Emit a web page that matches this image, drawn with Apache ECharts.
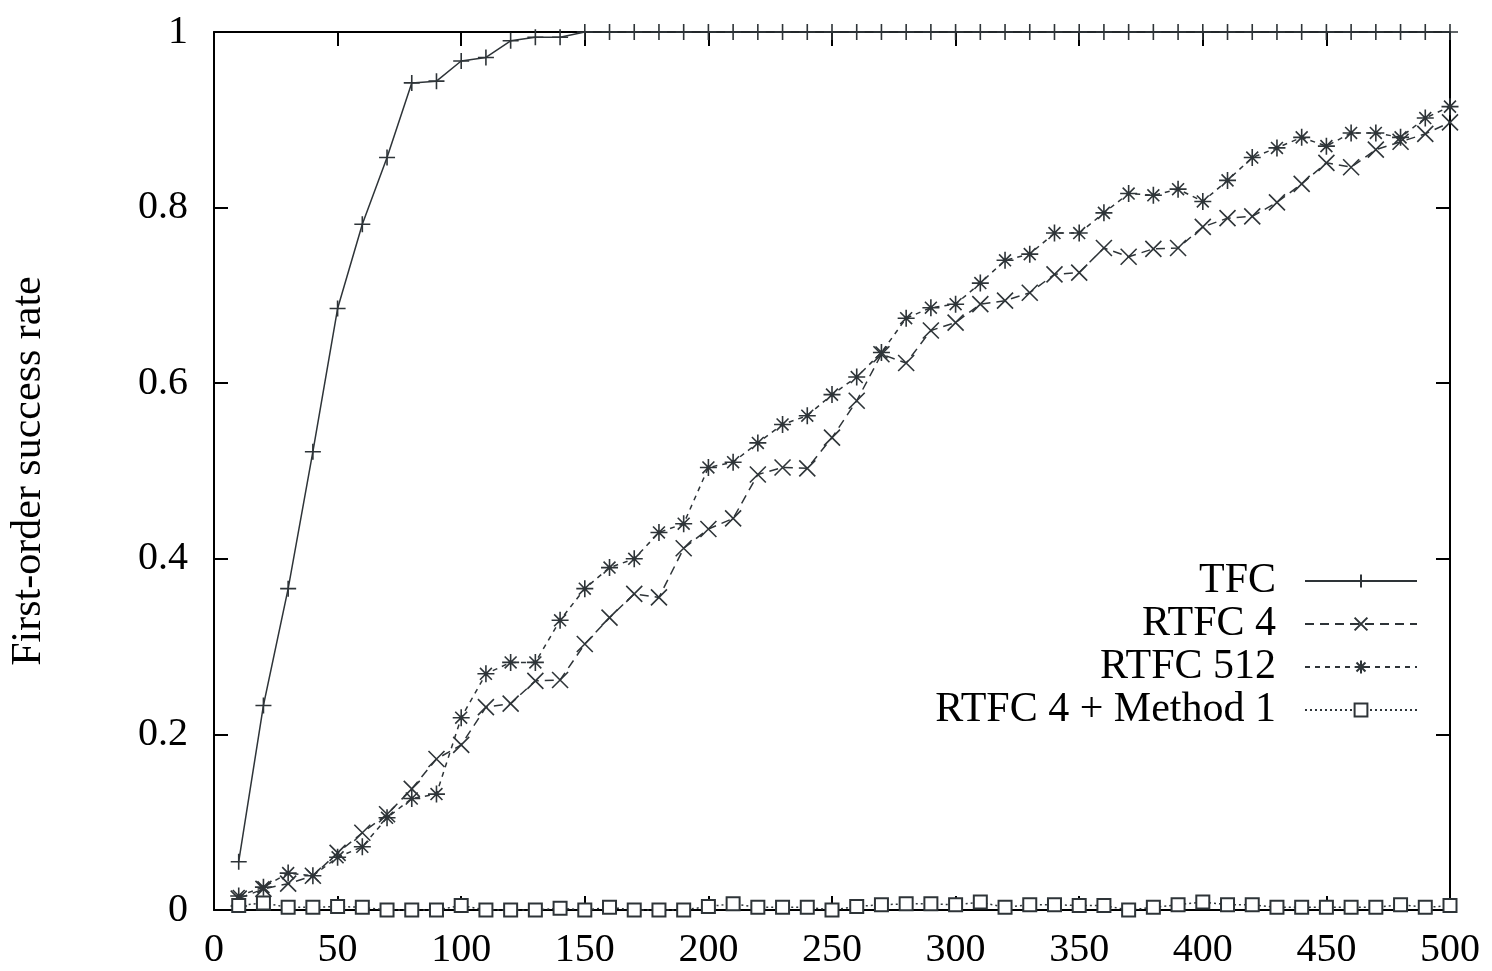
<!DOCTYPE html>
<html>
<head>
<meta charset="utf-8">
<script src="https://cdn.jsdelivr.net/npm/echarts@6/dist/echarts.min.js"></script>
<style>
  html, body { margin: 0; padding: 0; background: #fff; }
  #chart { width: 1492px; height: 971px; }
</style>
</head>
<body>
<div id="chart"></div>
<script>
// x positions
const xs = [10, 20, 30, 40, 50, 60, 70, 80, 90, 100,
  110, 120, 130, 140, 150, 160, 170, 180, 190, 200,
  210, 220, 230, 240, 250, 260, 270, 280, 290, 300,
  310, 320, 330, 340, 350, 360, 370, 380, 390, 400,
  410, 420, 430, 440, 450, 460, 470, 480, 490, 500]

const tfc = [0.055, 0.233, 0.366, 0.522, 0.685, 0.781, 0.857, 0.942, 0.944, 0.967,
  0.971, 0.990, 0.994, 0.994, 1, 1, 1, 1, 1, 1,
  1, 1, 1, 1, 1, 1, 1, 1, 1, 1,
  1, 1, 1, 1, 1, 1, 1, 1, 1, 1,
  1, 1, 1, 1, 1, 1, 1, 1, 1, 1]

const rtfc4 = [0.013, 0.024, 0.030, 0.039, 0.065, 0.088, 0.109, 0.138, 0.172, 0.188,
  0.231, 0.235, 0.261, 0.262, 0.303, 0.333, 0.360, 0.356, 0.412, 0.434,
  0.446, 0.496, 0.504, 0.503, 0.538, 0.580, 0.633, 0.623, 0.660, 0.669,
  0.690, 0.694, 0.703, 0.724, 0.726, 0.754, 0.744, 0.753, 0.754, 0.778,
  0.788, 0.790, 0.806, 0.827, 0.851, 0.846, 0.866, 0.875, 0.884, 0.897]

const rtfc512 = [0.016, 0.026, 0.042, 0.039, 0.060, 0.072, 0.105, 0.127, 0.132, 0.219,
  0.269, 0.282, 0.282, 0.330, 0.366, 0.390, 0.400, 0.430, 0.440, 0.504,
  0.510, 0.532, 0.553, 0.563, 0.587, 0.607, 0.635, 0.674, 0.686, 0.690,
  0.714, 0.740, 0.747, 0.771, 0.771, 0.794, 0.816, 0.814, 0.821, 0.807,
  0.831, 0.857, 0.868, 0.880, 0.870, 0.885, 0.885, 0.880, 0.902, 0.915]

const method1 = [0.005, 0.008, 0.003, 0.003, 0.004, 0.003, 0, 0, 0, 0.005,
  0, 0, 0, 0.002, 0, 0.003, 0, 0, 0, 0.004,
  0.007, 0.003, 0.003, 0.003, 0, 0.004, 0.006, 0.007, 0.007, 0.006,
  0.009, 0.003, 0.006, 0.006, 0.005, 0.005, 0, 0.003, 0.006, 0.009,
  0.006, 0.006, 0.003, 0.003, 0.003, 0.003, 0.003, 0.006, 0.003, 0.005]

const seriesNames = ['TFC', 'RTFC 4', 'RTFC 512', 'RTFC 4 + Method 1']

const font = '"Liberation Serif", "DejaVu Serif", serif'
const ink = '#2e3438'

// gnuplot-like point types drawn as stroked paths
const plusSym = 'path://M0,5 L10,5 M5,0 L5,10'
const crossSym = 'path://M0,0 L10,10 M10,0 L0,10'
const starSym = 'path://M0,5 L10,5 M5,0 L5,10 M1.5,1.5 L8.5,8.5 M8.5,1.5 L1.5,8.5'

const pairs = (ys) => xs.map((x, i) => [x, ys[i]])

function makeSeries (name, ys, symbol, size, dash) {
    return {
        name,
        type: 'line',
        data: pairs(ys),
        symbol,
        symbolSize: size,
        clip: false,
        showAllSymbol: true,
        lineStyle: { color: ink, width: 1.5, type: dash },
        itemStyle: { color: symbol === 'emptyRect' ? ink : 'transparent', borderColor: ink, borderWidth: 1.6 },
        emphasis: { disabled: true },
        animation: false
    }
}

const axisCommon = {
    type: 'value',
    axisLine: { show: true, onZero: false, lineStyle: { color: '#000', width: 2 } },
    axisTick: { show: true, inside: true, length: 14, lineStyle: { color: '#000', width: 2 } },
    splitLine: { show: false }
}

const option = {
    backgroundColor: '#fff',
    grid: { left: 211, right: 42, top: 32, bottom: 61 },
    legend: {
        orient: 'vertical',
        right: 69,
        top: 555,
        align: 'right',
        itemWidth: 112,
        itemHeight: 16,
        itemGap: 1,
        data: seriesNames,
        textStyle: {
            fontFamily: font,
            fontSize: 42,
            color: '#000',
            width: 380,
            align: 'right',
            lineHeight: 42,
            padding: [0, 24, 0, 0]
        }
    },
    xAxis: [
        {
            ...axisCommon,
            min: 0,
            max: 500,
            interval: 50,
            position: 'bottom',
            axisLabel: { fontFamily: font, fontSize: 40, color: '#000', margin: 20 }
        },
        {
            ...axisCommon,
            min: 0,
            max: 500,
            interval: 50,
            position: 'top',
            axisLabel: { show: false }
        }
    ],
    yAxis: [
        {
            ...axisCommon,
            min: 0,
            max: 1,
            interval: 0.2,
            position: 'left',
            name: 'First-order success rate',
            nameLocation: 'middle',
            nameGap: 164,
            nameRotate: 90,
            nameTextStyle: { fontFamily: font, fontSize: 42, color: '#000' },
            axisLabel: { fontFamily: font, fontSize: 40, color: '#000', margin: 26 }
        },
        {
            ...axisCommon,
            min: 0,
            max: 1,
            interval: 0.2,
            position: 'right',
            axisLabel: { show: false }
        }
    ],
    series: [
        makeSeries(seriesNames[0], tfc, plusSym, 16, 'solid'),
        makeSeries(seriesNames[1], rtfc4, crossSym, 16, [9, 6]),
        makeSeries(seriesNames[2], rtfc512, starSym, 17, [5, 5]),
        makeSeries(seriesNames[3], method1, 'emptyRect', 13, [2, 3])
    ]
}

const myChart = echarts.init(document.getElementById('chart'))
myChart.setOption(option)
</script>
</body>
</html>
